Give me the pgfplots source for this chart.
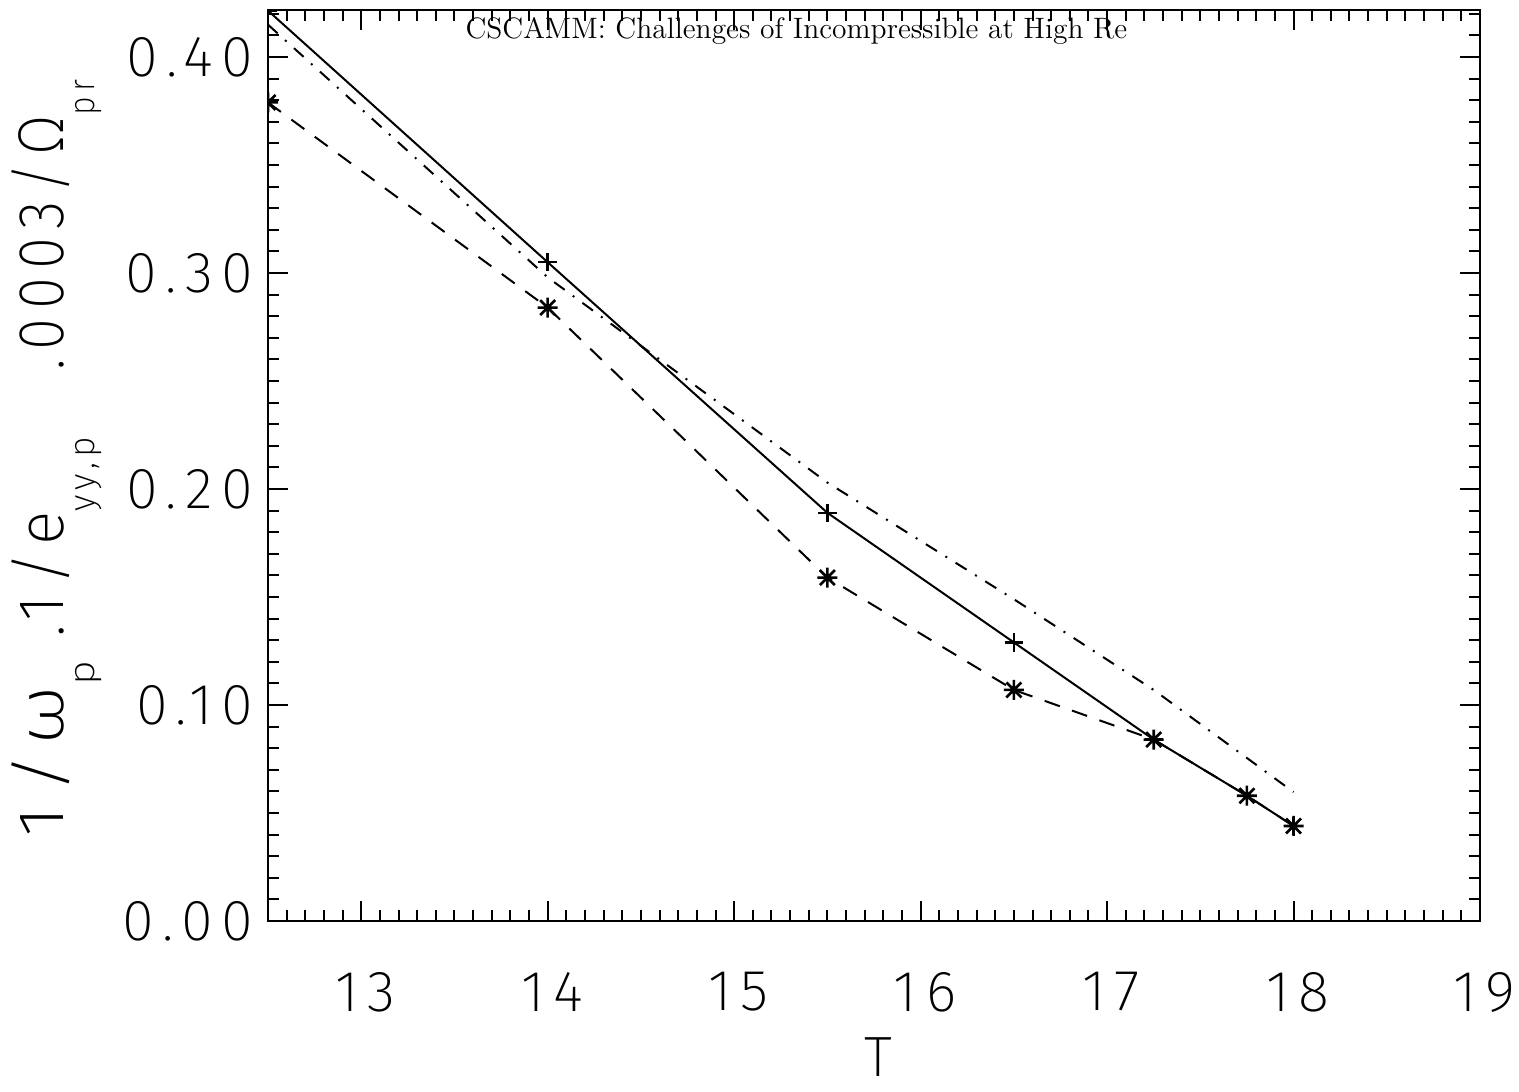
\documentclass[border=0pt]{standalone}
\usepackage{fontspec}
\usepackage{graphicx}
\usepackage{pgfplots}
\pgfplotsset{compat=1.18}
\newfontfamily\hfont{Fira Sans ExtraLight}
\newfontfamily\hfontls{Fira Sans ExtraLight}[LetterSpace=15]
\newcommand\sub[1]{\raisebox{-15bp}{\fontsize{18}{18}\selectfont #1}}
\pgfdeclareplotmark{idlstar}{%
  \pgfpathmoveto{\pgfqpoint{-\pgfplotmarksize}{0pt}}\pgfpathlineto{\pgfqpoint{\pgfplotmarksize}{0pt}}%
  \pgfpathmoveto{\pgfqpoint{0pt}{-\pgfplotmarksize}}\pgfpathlineto{\pgfqpoint{0pt}{\pgfplotmarksize}}%
  \pgfpathmoveto{\pgfqpoint{-0.75\pgfplotmarksize}{-0.75\pgfplotmarksize}}\pgfpathlineto{\pgfqpoint{0.75\pgfplotmarksize}{0.75\pgfplotmarksize}}%
  \pgfpathmoveto{\pgfqpoint{-0.75\pgfplotmarksize}{0.75\pgfplotmarksize}}\pgfpathlineto{\pgfqpoint{0.75\pgfplotmarksize}{-0.75\pgfplotmarksize}}%
  \pgfusepathqstroke}
\pgfplotstableread{
x y
12.5 0.4215
14 0.305
15.5 0.189
16.5 0.129
17.25 0.084
17.75 0.058
18 0.044
}\solid
\pgfplotstableread{
x y
12.5 0.379
14 0.284
15.5 0.159
16.5 0.107
17.25 0.084
17.75 0.058
18 0.044
}\dashedd
\pgfplotstableread{
x y
12.5 0.415
14 0.298
15.5 0.203
16.5 0.149
17.25 0.107
18 0.0597
}\dashdot
\begin{document}
\begin{tikzpicture}
\begin{axis}[
  scale only axis, width=606bp, height=455.5bp,
  xmin=12.5, xmax=19, ymin=0, ymax=0.4218,
  axis line style={line width=1bp},
  xtick={13,14,15,16,17,18,19},
  xticklabels={13,14,15,16,17,18,19},
  minor xtick={12.6,12.7,12.8,12.9,13.1,13.2,13.3,13.4,13.5,13.6,13.7,13.8,13.9,14.1,14.2,14.3,14.4,14.5,14.6,14.7,14.8,14.9,15.1,15.2,15.3,15.4,15.5,15.6,15.7,15.8,15.9,16.1,16.2,16.3,16.4,16.5,16.6,16.7,16.8,16.9,17.1,17.2,17.3,17.4,17.5,17.6,17.7,17.8,17.9,18.1,18.2,18.3,18.4,18.5,18.6,18.7,18.8,18.9},
  ytick={0,0.1,0.2,0.3,0.4},
  yticklabels={0.00,0.10,0.20,0.30,0.40},
  minor ytick={0.01,0.02,0.03,0.04,0.05,0.06,0.07,0.08,0.09,0.11,0.12,0.13,0.14,0.15,0.16,0.17,0.18,0.19,0.21,0.22,0.23,0.24,0.25,0.26,0.27,0.28,0.29,0.31,0.32,0.33,0.34,0.35,0.36,0.37,0.38,0.39,0.41,0.42},
  tick align=inside,
  major tick length=10bp, minor tick length=5.5bp,
  tick style={line width=1bp, black},
  ticklabel style={font=\hfontls\fontsize{29}{34}\selectfont, inner sep=0pt},
  xticklabel style={anchor=north, yshift=-25.5bp, xshift=2.2bp},
  yticklabel style={anchor=east, xshift=-7bp},
  clip marker paths=true,
]
\addplot[line width=1bp, mark=+, mark size=4.6bp, mark options={solid, line width=1.2bp}] table[x=x,y=y] {\solid};
\addplot[line width=1bp, dash pattern=on 8bp off 6.5bp, mark=idlstar, mark size=5bp, mark options={solid, line width=1.3bp}] table[x=x,y=y] {\dashedd};
\addplot[line width=1bp, dash pattern=on 6.5bp off 5bp on 1bp off 5bp] table[x=x,y=y] {\dashdot};
\node[anchor=north, inner sep=0pt, font=\fontsize{14.8}{16}\selectfont] at (rel axis cs:0.436,1) [yshift=-3.5bp] {CSCAMM: Challenges of Incompressible at High Re};
\end{axis}
\node[rotate=90, anchor=base, inner sep=0pt] at ([xshift=-102bp, yshift=3.5bp]current axis.west) {\hfontls\fontsize{32.5}{36}\selectfont
  \resizebox{88bp}{\height}{1/ω\sub{p}}\hspace{12bp}%
  \resizebox{100bp}{\height}{.1/e\sub{yy,p}}\hspace{33.5bp}%
  \resizebox{145bp}{\height}{.0003/Ω\sub{pr}}};
\node[anchor=north, inner sep=0pt, font=\hfont\fontsize{28.5}{34}\selectfont] at ([yshift=-58bp, xshift=2bp]current axis.south) {T};
\path (current axis.south west) ++(-134bp,-85bp) coordinate (bl);
\path (current axis.north east) ++(19.5bp,5bp) coordinate (tr);
\pgfresetboundingbox
\path[use as bounding box] (bl) rectangle (tr);
\end{tikzpicture}
\end{document}
